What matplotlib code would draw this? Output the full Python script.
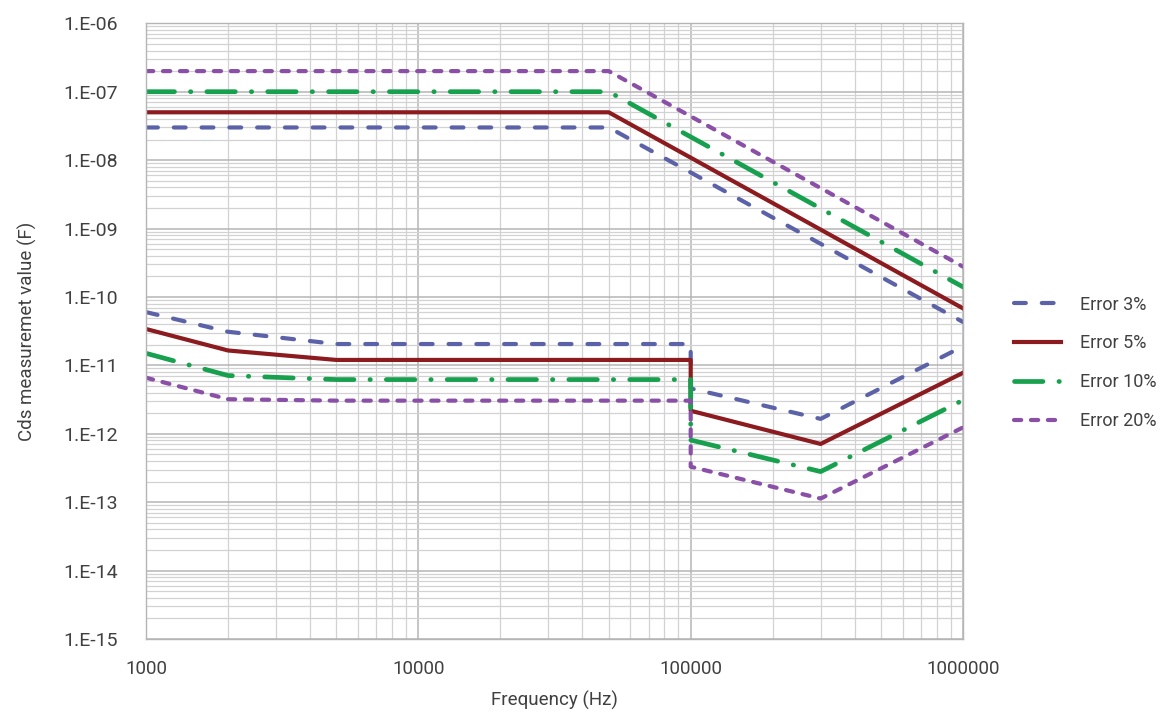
import math
import matplotlib
matplotlib.use("Agg")
import matplotlib.pyplot as plt
from matplotlib.ticker import LogLocator, FixedLocator, FuncFormatter, NullFormatter

plt.rcParams['font.family'] = ['Roboto', 'DejaVu Sans']
plt.rcParams['font.weight'] = 'normal'
plt.rcParams['lines.scale_dashes'] = False

# ---- data ----
freq_high = [1000, 50000, 1000000]
freq_low = [1000, 2000, 5000, 100000, 100000, 300000, 1000000]

labels = ["Error 3%", "Error 5%", "Error 10%", "Error 20%"]

high_err3 = [3.0e-8, 3.0e-8, 4.3e-11]
high_err5 = [5.0e-8, 5.0e-8, 6.8e-11]
high_err10 = [1.0e-7, 1.0e-7, 1.4e-10]
high_err20 = [2.0e-7, 2.0e-7, 2.77e-10]

low_err3 = [6.0e-11, 3.1e-11, 2.05e-11, 2.05e-11, 4.6e-12, 1.65e-12, 1.9e-11]
low_err5 = [3.4e-11, 1.65e-11, 1.2e-11, 1.2e-11, 2.17e-12, 7.1e-13, 7.8e-12]
low_err10 = [1.5e-11, 7.1e-12, 6.2e-12, 6.2e-12, 8.1e-13, 2.8e-13, 3.1e-12]
low_err20 = [6.6e-12, 3.2e-12, 3.05e-12, 3.05e-12, 3.3e-13, 1.13e-13, 1.24e-12]

x_ticks = [1000, 10000, 100000, 1000000]
y_ticks = [1e-15, 1e-14, 1e-13, 1e-12, 1e-11, 1e-10, 1e-9, 1e-8, 1e-7, 1e-6]

# ---- styles ----
styles = [
    dict(color="#5b62a8", lw=3.0, dashes=(8.5, 11.5), dash_capstyle='round'),
    dict(color="#8c1b1f", lw=3.0, linestyle='-'),
    dict(color="#17a14e", lw=3.4, dashes=(20.5, 11.5, 0.3, 11.5), dash_capstyle='round'),
    dict(color="#8a4fa6", lw=3.0, dashes=(5.2, 7.0), dash_capstyle='round'),
]

TXT = '#404040'

fig = plt.figure(figsize=(11.73, 7.12), dpi=100)
ax = fig.add_axes([0.1245, 0.1025, 0.6965, 0.8648])

highs = [high_err3, high_err5, high_err10, high_err20]
lows = [low_err3, low_err5, low_err10, low_err20]
for lab, st, hi, lo in zip(labels, styles, highs, lows):
    ax.plot(freq_high, hi, label=lab, **st)
    ax.plot(freq_low, lo, **st)

ax.set_xscale('log')
ax.set_yscale('log')
ax.set_xlim(1000, 1000000)
ax.set_ylim(1e-15, 1e-6)

ax.xaxis.set_major_locator(FixedLocator(x_ticks))
ax.yaxis.set_major_locator(FixedLocator(y_ticks))
ax.xaxis.set_minor_locator(LogLocator(base=10, subs=range(2, 10), numticks=20))
ax.yaxis.set_minor_locator(LogLocator(base=10, subs=range(2, 10), numticks=30))
ax.xaxis.set_minor_formatter(NullFormatter())
ax.yaxis.set_minor_formatter(NullFormatter())
ax.xaxis.set_major_formatter(FuncFormatter(lambda v, p: f"{int(round(v))}"))

def yfmt(v, p):
    e = int(round(math.log10(v)))
    return f"1.E{'-' if e < 0 else '+'}{abs(e):02d}"
ax.yaxis.set_major_formatter(FuncFormatter(yfmt))

ax.grid(which='major', color='#b5b5b5', lw=1.1)
ax.grid(which='minor', color='#d2d2d2', lw=0.9)
ax.set_axisbelow(True)
ax.tick_params(which='both', length=0, colors=TXT)
ax.tick_params(axis='x', labelsize=13.5, pad=15)
ax.tick_params(axis='y', labelsize=14, pad=20)
for s in ax.spines.values():
    s.set_color('#b5b5b5')
    s.set_linewidth(1.0)

ax.set_xlabel("Frequency (Hz)", fontsize=13.5, color=TXT, labelpad=9)
ax.set_ylabel("Cds measuremet value (F)", fontsize=13.5, color=TXT, labelpad=19)

leg = fig.legend(loc='center left', bbox_to_anchor=(0.851, 0.4905), frameon=False,
                 prop={'size': 13},
                 handlelength=2.55, handletextpad=1.1, labelspacing=1.15)
for t in leg.get_texts():
    t.set_color(TXT)

fig.savefig("out.png", dpi=100)
